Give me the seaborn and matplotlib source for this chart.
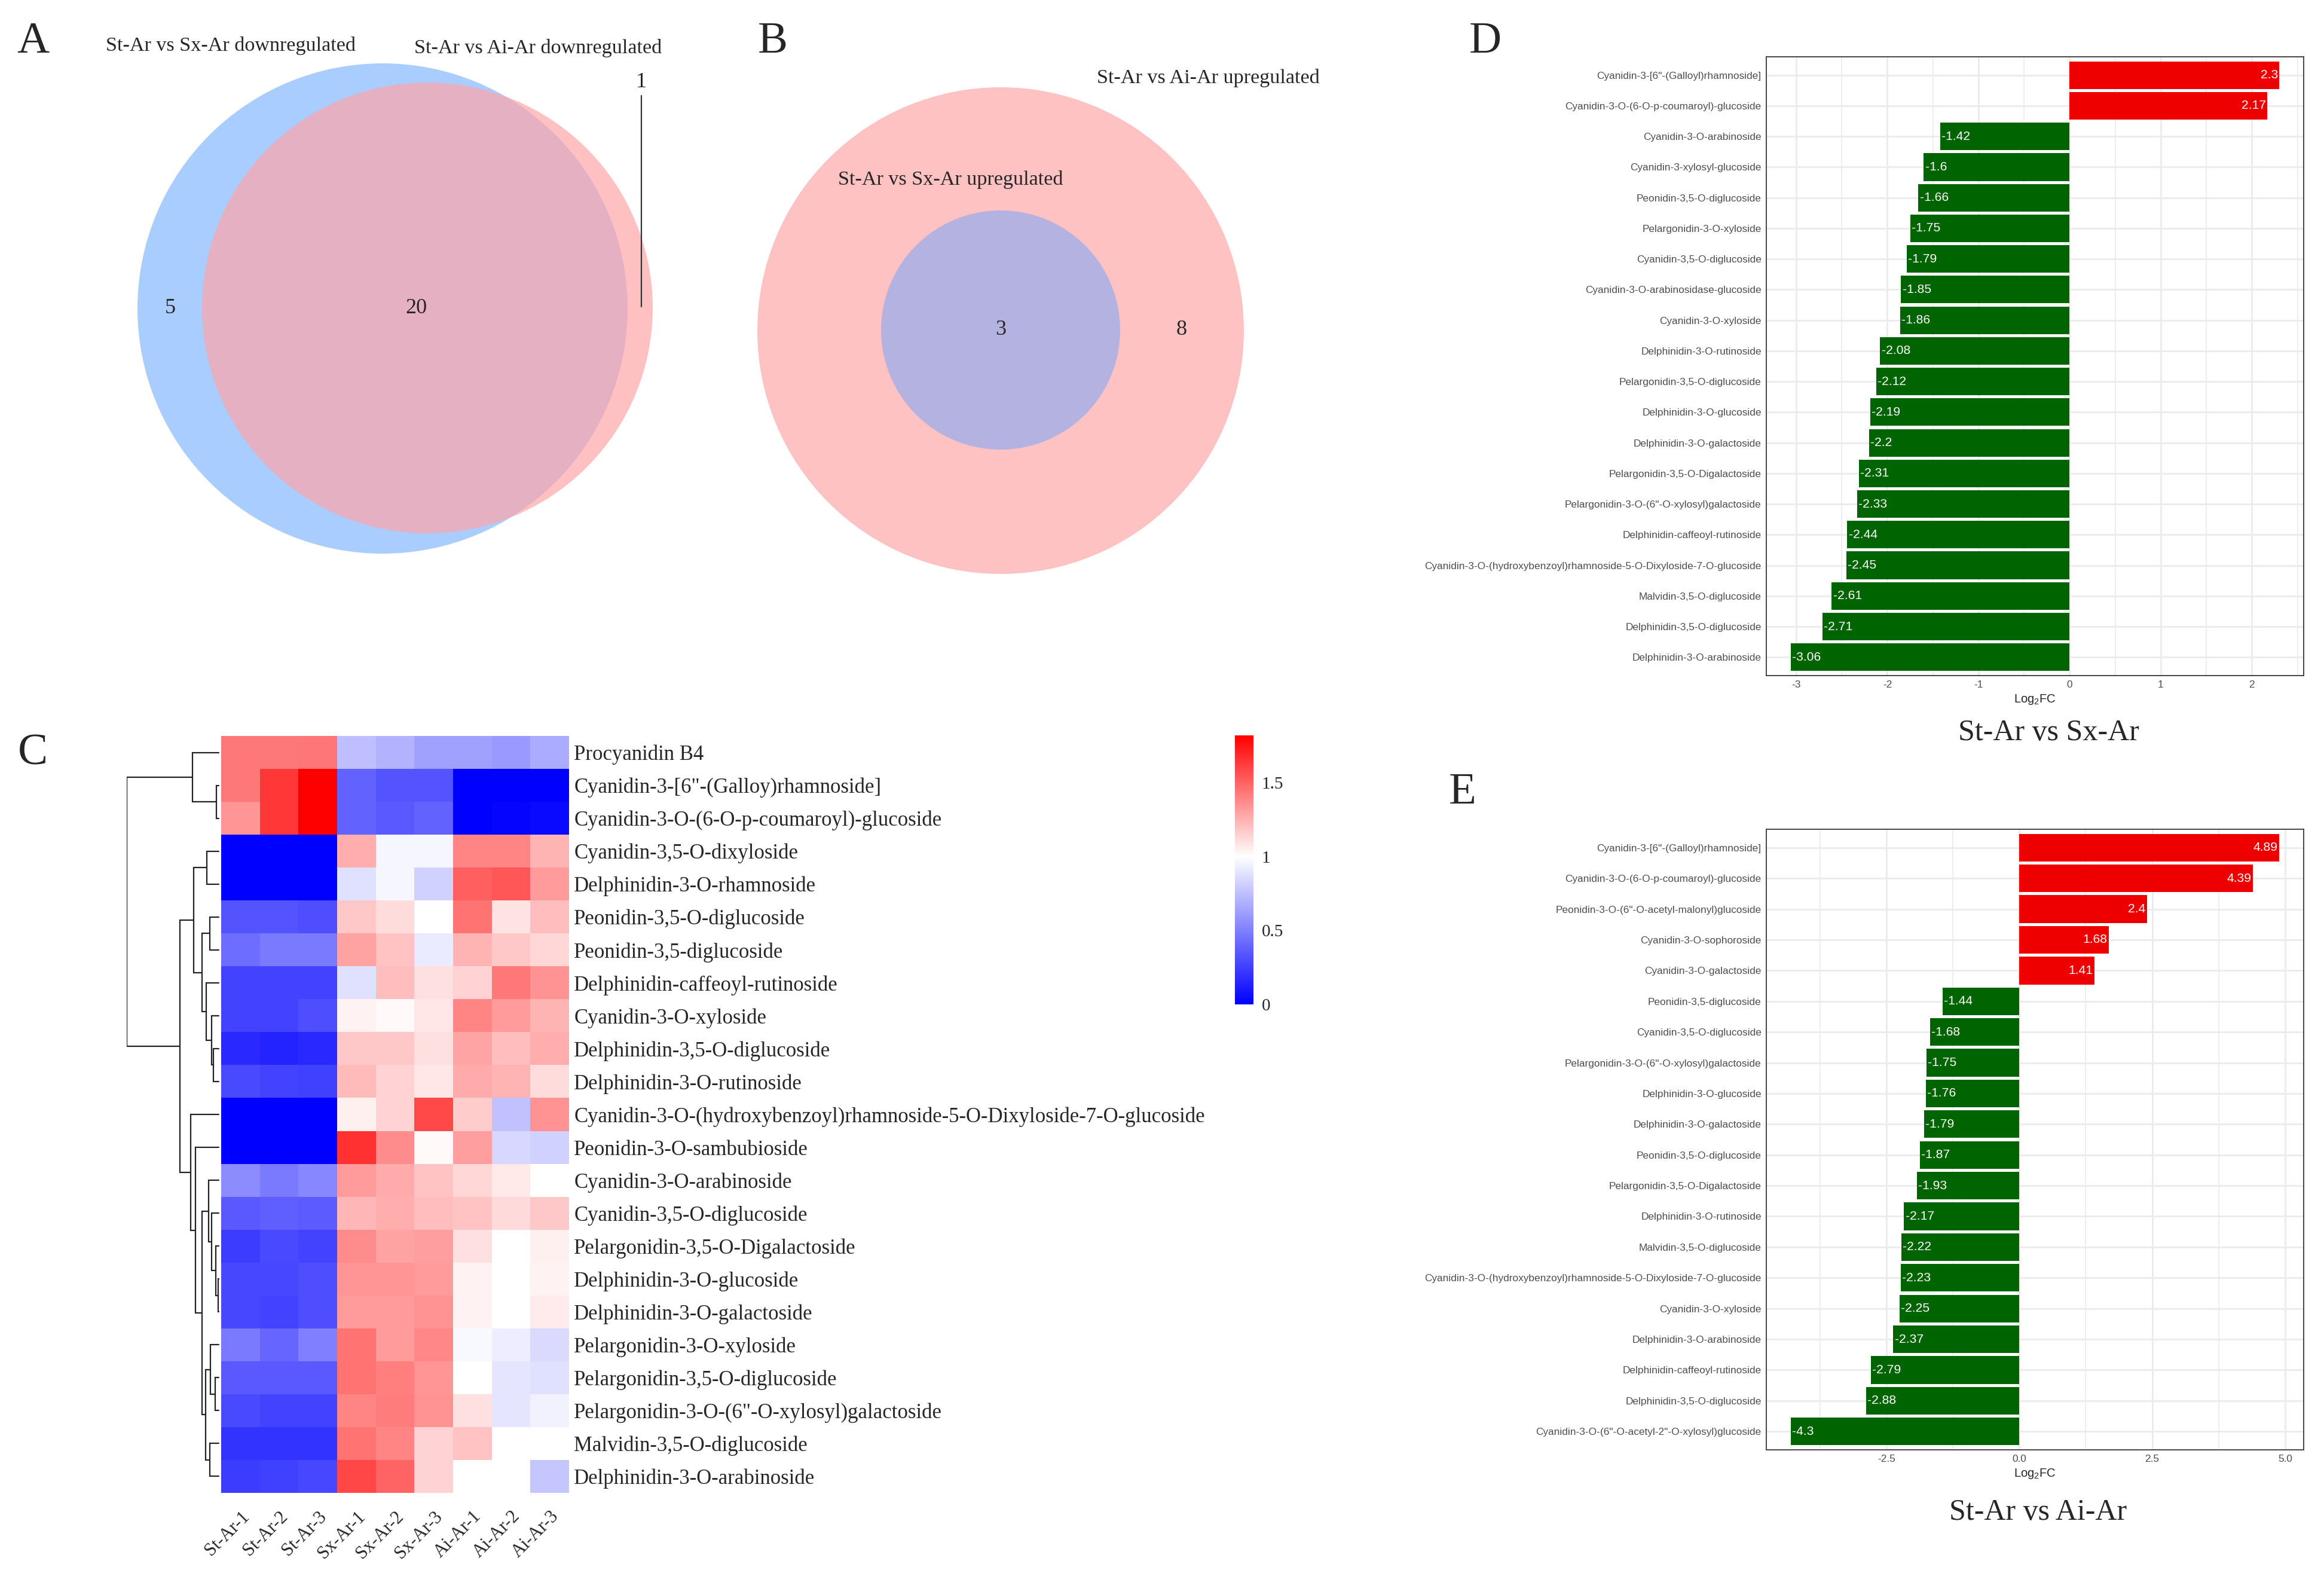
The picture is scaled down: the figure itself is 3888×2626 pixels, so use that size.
import numpy as np
import pandas as pd
import matplotlib
matplotlib.use("Agg")
import matplotlib.pyplot as plt
from matplotlib.patches import Circle
from matplotlib.colors import LinearSegmentedColormap
from matplotlib.ticker import FormatStrFormatter
import seaborn as sns

W, H, DPI = 3888, 2626, 200

# ---------------- data ----------------
venn_a_sets = ["St-Ar vs Sx-Ar downregulated", "St-Ar vs Ai-Ar downregulated"]
venn_a_counts = [5, 20, 1]          # Sx only, shared, Ai only
venn_b_sets = ["St-Ar vs Sx-Ar upregulated", "St-Ar vs Ai-Ar upregulated"]
venn_b_counts = [3, 8]              # shared, Ai only

samples = ["St-Ar-1", "St-Ar-2", "St-Ar-3", "Sx-Ar-1", "Sx-Ar-2", "Sx-Ar-3",
           "Ai-Ar-1", "Ai-Ar-2", "Ai-Ar-3"]
compounds = [
    "Procyanidin B4",
    "Cyanidin-3-[6\"-(Galloy)rhamnoside]",
    "Cyanidin-3-O-(6-O-p-coumaroyl)-glucoside",
    "Cyanidin-3,5-O-dixyloside",
    "Delphinidin-3-O-rhamnoside",
    "Peonidin-3,5-O-diglucoside",
    "Peonidin-3,5-diglucoside",
    "Delphinidin-caffeoyl-rutinoside",
    "Cyanidin-3-O-xyloside",
    "Delphinidin-3,5-O-diglucoside",
    "Delphinidin-3-O-rutinoside",
    "Cyanidin-3-O-(hydroxybenzoyl)rhamnoside-5-O-Dixyloside-7-O-glucoside",
    "Peonidin-3-O-sambubioside",
    "Cyanidin-3-O-arabinoside",
    "Cyanidin-3,5-O-diglucoside",
    "Pelargonidin-3,5-O-Digalactoside",
    "Delphinidin-3-O-glucoside",
    "Delphinidin-3-O-galactoside",
    "Pelargonidin-3-O-xyloside",
    "Pelargonidin-3,5-O-diglucoside",
    "Pelargonidin-3-O-(6\"-O-xylosyl)galactoside",
    "Malvidin-3,5-O-diglucoside",
    "Delphinidin-3-O-arabinoside",
]
abundance = [
    [1.43, 1.43, 1.44, 0.75, 0.70, 0.63, 0.63, 0.60, 0.67],
    [1.43, 1.64, 1.82, 0.39, 0.33, 0.33, 0.00, 0.00, 0.00],
    [1.34, 1.64, 1.82, 0.39, 0.35, 0.39, 0.00, 0.02, 0.04],
    [0.00, 0.00, 0.00, 1.26, 0.96, 0.96, 1.39, 1.39, 1.24],
    [0.00, 0.00, 0.00, 0.88, 0.96, 0.82, 1.51, 1.54, 1.32],
    [0.33, 0.33, 0.31, 1.18, 1.11, 1.00, 1.45, 1.09, 1.21],
    [0.43, 0.48, 0.48, 1.30, 1.19, 0.92, 1.24, 1.18, 1.13],
    [0.27, 0.27, 0.27, 0.88, 1.21, 1.10, 1.14, 1.43, 1.35],
    [0.27, 0.27, 0.31, 1.04, 1.02, 1.08, 1.39, 1.32, 1.24],
    [0.16, 0.14, 0.16, 1.18, 1.18, 1.10, 1.29, 1.21, 1.26],
    [0.29, 0.27, 0.25, 1.22, 1.14, 1.08, 1.27, 1.24, 1.11],
    [0.00, 0.00, 0.00, 1.05, 1.14, 1.58, 1.16, 0.76, 1.35],
    [0.00, 0.00, 0.00, 1.66, 1.37, 1.02, 1.31, 0.84, 0.82],
    [0.55, 0.48, 0.53, 1.32, 1.27, 1.19, 1.13, 1.07, 1.00],
    [0.35, 0.37, 0.36, 1.23, 1.26, 1.21, 1.19, 1.12, 1.18],
    [0.24, 0.29, 0.27, 1.37, 1.30, 1.31, 1.10, 1.00, 1.05],
    [0.28, 0.28, 0.31, 1.34, 1.34, 1.32, 1.04, 1.00, 1.04],
    [0.28, 0.27, 0.31, 1.32, 1.32, 1.35, 1.04, 1.00, 1.06],
    [0.48, 0.40, 0.50, 1.45, 1.32, 1.38, 0.97, 0.93, 0.86],
    [0.35, 0.35, 0.35, 1.45, 1.41, 1.34, 1.00, 0.90, 0.88],
    [0.29, 0.27, 0.27, 1.39, 1.42, 1.35, 1.10, 0.90, 0.95],
    [0.20, 0.20, 0.20, 1.45, 1.39, 1.14, 1.19, 1.00, 1.00],
    [0.24, 0.25, 0.28, 1.59, 1.50, 1.14, 1.00, 1.00, 0.78],
]
# row dendrogram: (merge height, left, right); leaves are row indices
row_tree = (465,
            (135, 0, (13, 1, 2)),
            (198,
             (128, (60, 3, 4),
              (85, (45, 5, 6), (63, 7, (38, 8, (28, 9, 10))))),
             (142, 11,
              (120, 12,
               (87,
                (53, 13, (38, 14, (15, 15, (5, 16, 17)))),
                (68, (43, 18, (20, 19, 20)), (45, 21, 22)))))))

d_names = [
    "Cyanidin-3-[6\"-(Galloyl)rhamnoside]",
    "Cyanidin-3-O-(6-O-p-coumaroyl)-glucoside",
    "Cyanidin-3-O-arabinoside",
    "Cyanidin-3-xylosyl-glucoside",
    "Peonidin-3,5-O-diglucoside",
    "Pelargonidin-3-O-xyloside",
    "Cyanidin-3,5-O-diglucoside",
    "Cyanidin-3-O-arabinosidase-glucoside",
    "Cyanidin-3-O-xyloside",
    "Delphinidin-3-O-rutinoside",
    "Pelargonidin-3,5-O-diglucoside",
    "Delphinidin-3-O-glucoside",
    "Delphinidin-3-O-galactoside",
    "Pelargonidin-3,5-O-Digalactoside",
    "Pelargonidin-3-O-(6\"-O-xylosyl)galactoside",
    "Delphinidin-caffeoyl-rutinoside",
    "Cyanidin-3-O-(hydroxybenzoyl)rhamnoside-5-O-Dixyloside-7-O-glucoside",
    "Malvidin-3,5-O-diglucoside",
    "Delphinidin-3,5-O-diglucoside",
    "Delphinidin-3-O-arabinoside",
]
d_log2fc = [2.3, 2.17, -1.42, -1.6, -1.66, -1.75, -1.79, -1.85, -1.86, -2.08,
            -2.12, -2.19, -2.2, -2.31, -2.33, -2.44, -2.45, -2.61, -2.71, -3.06]

e_names = [
    "Cyanidin-3-[6\"-(Galloyl)rhamnoside]",
    "Cyanidin-3-O-(6-O-p-coumaroyl)-glucoside",
    "Peonidin-3-O-(6\"-O-acetyl-malonyl)glucoside",
    "Cyanidin-3-O-sophoroside",
    "Cyanidin-3-O-galactoside",
    "Peonidin-3,5-diglucoside",
    "Cyanidin-3,5-O-diglucoside",
    "Pelargonidin-3-O-(6\"-O-xylosyl)galactoside",
    "Delphinidin-3-O-glucoside",
    "Delphinidin-3-O-galactoside",
    "Peonidin-3,5-O-diglucoside",
    "Pelargonidin-3,5-O-Digalactoside",
    "Delphinidin-3-O-rutinoside",
    "Malvidin-3,5-O-diglucoside",
    "Cyanidin-3-O-(hydroxybenzoyl)rhamnoside-5-O-Dixyloside-7-O-glucoside",
    "Cyanidin-3-O-xyloside",
    "Delphinidin-3-O-arabinoside",
    "Delphinidin-caffeoyl-rutinoside",
    "Delphinidin-3,5-O-diglucoside",
    "Cyanidin-3-O-(6\"-O-acetyl-2\"-O-xylosyl)glucoside",
]
e_log2fc = [4.89, 4.39, 2.4, 1.68, 1.41, -1.44, -1.68, -1.75, -1.76, -1.79,
            -1.87, -1.93, -2.17, -2.22, -2.23, -2.25, -2.37, -2.79, -2.88, -4.3]

# ---------------- style ----------------
sns.set_style("white")
plt.rcParams["font.family"] = ["Liberation Serif", "DejaVu Serif"]
plt.rcParams["axes.unicode_minus"] = False
plt.rcParams["mathtext.default"] = "regular"
SANS = ["Liberation Sans", "DejaVu Sans"]

fig = plt.figure(figsize=(W / DPI, H / DPI), dpi=DPI)


def px_axes(x0, y0, x1, y1):
    return fig.add_axes([x0 / W, 1 - y1 / H, (x1 - x0) / W, (y1 - y0) / H])


bg = fig.add_axes([0, 0, 1, 1])
bg.set_xlim(0, W)
bg.set_ylim(H, 0)
bg.axis("off")

# ---------------- A: Venn (downregulated) ----------------
bg.add_patch(Circle((640, 516), 410, color="#AACDFF", lw=0))
bg.add_patch(Circle((715, 515), 377, color="#FFA4A7", alpha=0.69, lw=0))
bg.text(386, 76, venn_a_sets[0], fontsize=12.3, ha="center", va="center")
bg.text(900, 80, venn_a_sets[1], fontsize=12.3, ha="center", va="center")
bg.text(285, 516, str(venn_a_counts[0]), fontsize=13, ha="center", va="center")
bg.text(696, 516, str(venn_a_counts[1]), fontsize=13, ha="center", va="center")
bg.text(1073, 138, str(venn_a_counts[2]), fontsize=13, ha="center", va="center")
bg.plot([1073, 1073], [160, 513], color="#333333", lw=0.8)

# ---------------- B: Venn (upregulated) ----------------
bg.add_patch(Circle((1674, 553), 407, color="#FFC2C2", lw=0))
bg.add_patch(Circle((1674, 552), 200, color="#B4B2E0", lw=0))
bg.text(1590, 300, venn_b_sets[0], fontsize=12.3, ha="center", va="center")
bg.text(2021, 130, venn_b_sets[1], fontsize=12.3, ha="center", va="center")
bg.text(1674, 552, str(venn_b_counts[0]), fontsize=13, ha="center", va="center")
bg.text(1977, 552, str(venn_b_counts[1]), fontsize=13, ha="center", va="center")

# panel letters
for letter, (x, y) in zip("ABCDE", [(55, 70), (1293, 70), (55, 1261),
                                    (2485, 70), (2447, 1326)]):
    bg.text(x, y, letter, fontsize=27, ha="center", va="center")

# ---------------- C: clustered heatmap ----------------
vmax = 1.82
cmap = LinearSegmentedColormap.from_list(
    "bwr_1", [(0, "#0000FF"), (1 / vmax, "#FFFFFF"), (1, "#FF0000")])
heat_df = pd.DataFrame(abundance, index=compounds, columns=samples)

ax_hm = px_axes(370, 1231, 952, 2497)
ax_cb = px_axes(2066, 1230, 2097, 1680)
sns.heatmap(heat_df, ax=ax_hm, cmap=cmap, vmin=0, vmax=vmax, cbar_ax=ax_cb,
            xticklabels=samples, yticklabels=compounds)
ax_hm.yaxis.tick_right()
ax_hm.set_yticks(np.arange(len(compounds)) + 0.5)
ax_hm.set_yticklabels(compounds, rotation=0, ha="left", fontsize=12.5)
ax_hm.set_xticklabels(samples, rotation=45, ha="right", va="top",
                      rotation_mode="anchor", fontsize=11)
ax_hm.tick_params(axis="both", length=0)
ax_hm.tick_params(axis="y", pad=3)
ax_hm.tick_params(axis="x", pad=9)
ax_hm.set_xlabel("")
ax_hm.set_ylabel("")

ax_cb.set_yticks([0, 0.5, 1, 1.5])
ax_cb.set_yticklabels(["0", "0.5", "1", "1.5"])
ax_cb.tick_params(length=0, labelsize=10.5, pad=5)
for s in ax_cb.spines.values():
    s.set_visible(False)

# row dendrogram
ax_dn = px_axes(212, 1231, 370, 2497)


def draw_node(node):
    if isinstance(node, int):
        return 0, node + 0.5
    h, left, right = node
    hl, yl = draw_node(left)
    hr, yr = draw_node(right)
    ax_dn.plot([hl, h, h, hr], [yl, yl, yr, yr], color="#222222", lw=0.8,
               solid_joinstyle="miter")
    return h, (yl + yr) / 2


draw_node(row_tree)
ax_dn.set_xlim(466, -11)
ax_dn.set_ylim(len(compounds), 0)
ax_dn.axis("off")

# ---------------- D / E: log2FC bar charts ----------------
GRID = "#EBEBEB"


def draw_bars(ax, names, values, ticks, minor, fmt):
    df = pd.DataFrame({"compound": names, "log2fc": values})
    df["direction"] = np.where(df["log2fc"] > 0, "up", "down")
    sns.barplot(data=df, x="log2fc", y="compound", hue="direction",
                palette={"up": "#EE0000", "down": "#006400"}, order=names,
                dodge=False, legend=False, width=0.9, saturation=1,
                orient="h", linewidth=0, ax=ax)
    span = max(values) - min(values)
    ax.set_xlim(min(values) - 0.05 * span, max(values) + 0.05 * span)
    ax.set_ylim(len(names) - 0.4, -0.6)
    ax.set_xticks(ticks)
    ax.set_xticks(minor, minor=True)
    ax.xaxis.set_major_formatter(FormatStrFormatter(fmt))
    ax.set_axisbelow(True)
    ax.grid(which="major", axis="both", color=GRID, lw=1.0)
    ax.grid(which="minor", axis="x", color=GRID, lw=0.6)
    for i, v in enumerate(values):
        ax.annotate(f"{v:g}", (v, i), xytext=(-0.8 if v > 0 else 0.8, 0),
                    textcoords="offset points", ha="right" if v > 0 else "left",
                    va="center", color="white", fontsize=7.6, family=SANS)
    ax.set_ylabel("")
    ax.set_xlabel("Log$_2$FC", fontsize=7.3, family=SANS, labelpad=2)
    ax.tick_params(axis="both", which="major", length=1.5, width=0.6,
                   color="#333333", labelsize=6.2, labelcolor="#4D4D4D", pad=1.5)
    ax.tick_params(axis="x", which="minor", length=0)
    for lab in ax.get_xticklabels() + ax.get_yticklabels():
        lab.set_family(SANS)
    for s in ax.spines.values():
        s.set_visible(True)
        s.set_color("#444444")
        s.set_linewidth(0.7)


ax_d = px_axes(2955, 95, 3854, 1130)
draw_bars(ax_d, d_names, d_log2fc, [-3, -2, -1, 0, 1, 2],
          [-2.5, -1.5, -0.5, 0.5, 1.5, 2.5], "%d")
ax_e = px_axes(2955, 1387, 3854, 2425)
draw_bars(ax_e, e_names, e_log2fc, [-2.5, 0, 2.5, 5.0],
          [-3.75, -1.25, 1.25, 3.75], "%.1f")

bg.text(3427, 1226, "St-Ar vs Sx-Ar", fontsize=18, ha="center", va="center")
bg.text(3410, 2530, "St-Ar vs Ai-Ar", fontsize=18, ha="center", va="center")

fig.savefig("out.png", dpi=DPI, facecolor="white")
